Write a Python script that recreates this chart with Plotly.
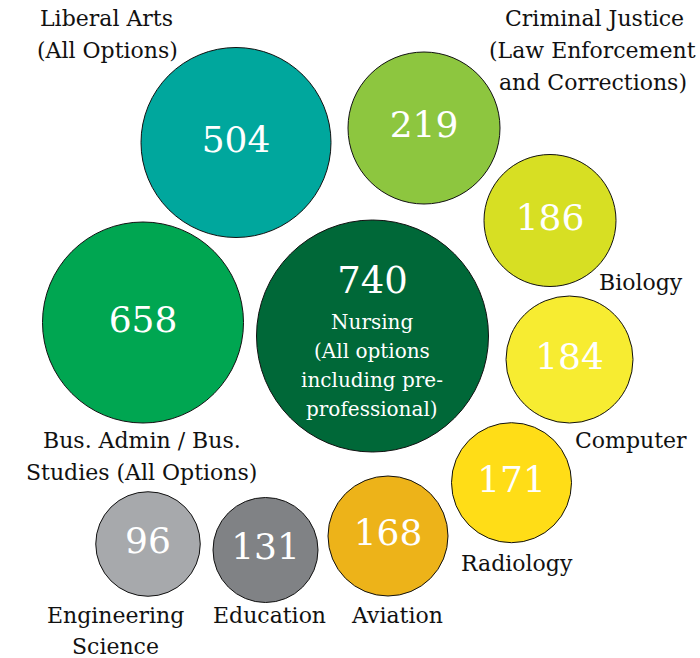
import plotly.graph_objects as go

# ---- data ----
programs = ["Liberal Arts", "Criminal Justice", "Biology", "Computer", "Radiology",
            "Aviation", "Education", "Engineering Science", "Bus. Admin / Bus. Studies", "Nursing"]
enrollment = [504, 219, 186, 184, 171, 168, 131, 96, 658, 740]

# ---- layout (bubble placement, pixel-like coordinates) ----
cx = [236, 424, 550, 569.5, 511.5, 388, 265.5, 148, 143, 372.5]
cy = [142.5, 128, 220.5, 359.5, 482.7, 536, 550, 544, 322.5, 336]
diam = [190, 152, 132, 127, 120, 120, 105, 104.5, 201, 232]
colors = ["#00A79D", "#8DC63F", "#D7DF23", "#F7EC31", "#FFDD17",
          "#EDB319", "#808285", "#A7A9AC", "#00A651", "#006838"]

# outer label lines: (text, x, y)
label_lines = [
    ("Liberal Arts", 106, 18), ("(All Options)", 107, 50),
    ("Criminal Justice", 594, 18), ("(Law Enforcement", 592, 50), ("and Corrections)", 593, 82),
    ("Biology", 641, 282),
    ("Computer", 631, 440),
    ("Radiology", 517, 563),
    ("Aviation", 397, 615),
    ("Education", 269, 615),
    ("Engineering", 115, 615), ("Science", 115, 646),
    ("Bus. Admin / Bus.", 141.5, 440), ("Studies (All Options)", 141, 472),
]
nursing_lines = [("Nursing", 372, 322), ("(All options", 372, 351),
                 ("including pre-", 372, 380), ("professional)", 372, 409)]

FONT = "DejaVu Serif"

fig = go.Figure()

# bubbles
fig.add_trace(go.Scatter(
    x=cx, y=cy, mode="markers",
    marker=dict(size=diam, color=colors, line=dict(color="#111111", width=1), opacity=1),
    hoverinfo="text", text=[f"{p}: {v}" for p, v in zip(programs, enrollment)],
    showlegend=False,
))

# value labels (Nursing value is placed higher, inside with description)
fig.add_trace(go.Scatter(
    x=cx[:-1], y=cy[:-1], mode="text",
    text=[str(v) for v in enrollment[:-1]],
    textposition="middle center",
    textfont=dict(family=FONT, size=36, color="white"),
    hoverinfo="skip", showlegend=False,
))
fig.add_trace(go.Scatter(
    x=[cx[-1]], y=[284], mode="text",
    text=[str(enrollment[-1])],
    textposition="middle center",
    textfont=dict(family=FONT, size=37, color="white"),
    hoverinfo="skip", showlegend=False,
))

annotations = []
for t, x, y in label_lines:
    annotations.append(dict(x=x, y=y, xref="x", yref="y", text=t, showarrow=False,
                            xanchor="center", yanchor="middle",
                            font=dict(family=FONT, size=22, color="#111111")))
for t, x, y in nursing_lines:
    annotations.append(dict(x=x, y=y, xref="x", yref="y", text=t, showarrow=False,
                            xanchor="center", yanchor="middle",
                            font=dict(family=FONT, size=20, color="white")))

fig.update_layout(
    width=700, height=658,
    margin=dict(l=0, r=0, t=0, b=0),
    paper_bgcolor="white", plot_bgcolor="white",
    xaxis=dict(range=[0, 700], visible=False, fixedrange=True),
    yaxis=dict(range=[658, 0], visible=False, fixedrange=True),
    annotations=annotations,
)

# remove the default 8px page margin so the figure fills the window exactly
fig.write_html("out.html",
               config={"displayModeBar": False},
               post_script="document.body.style.margin='0';document.body.style.overflow='hidden';")
